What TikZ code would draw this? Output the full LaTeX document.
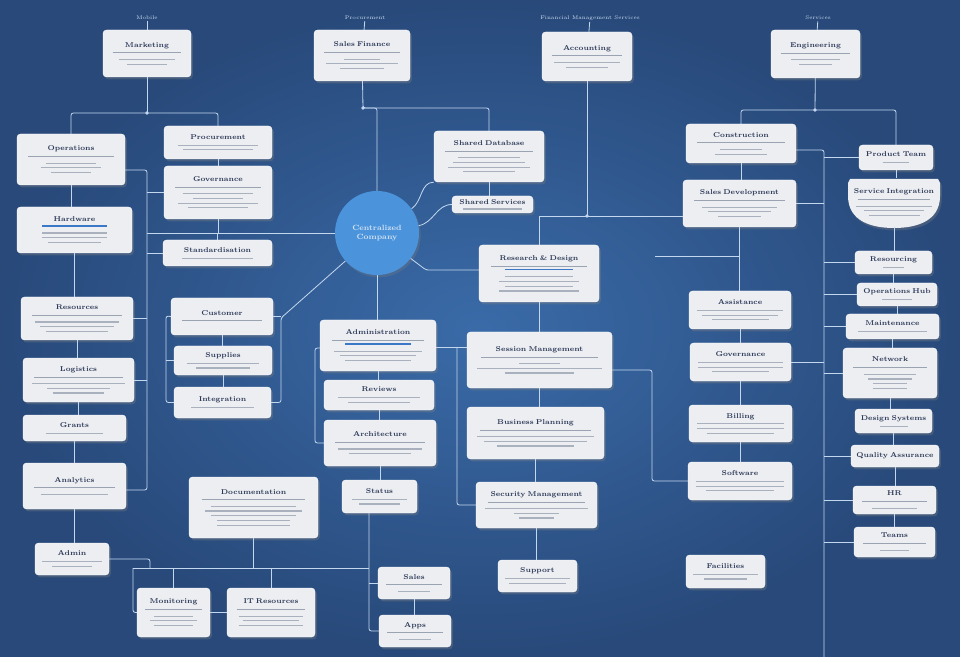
\documentclass[tikz,border=0pt]{standalone}
\usepackage{tikz}
\usetikzlibrary{shadows, arrows.meta}
\definecolor{bgin}{HTML}{3A6BA8}
\definecolor{bgout}{HTML}{28497A}
\definecolor{cardc}{HTML}{ECEEF2}
\definecolor{titlec}{HTML}{2C3856}
\definecolor{bodyc}{HTML}{A9B1BE}
\definecolor{sepc}{HTML}{9AA3B1}
\definecolor{linec}{HTML}{C3D7EF}
\definecolor{hubc}{HTML}{4B94DC}
\definecolor{barc}{HTML}{3C78C8}
\definecolor{labc}{HTML}{D3E2F4}
\newcommand{\ttl}[1]{{\bfseries\fontsize{6}{7}\selectfont\color{titlec}#1}}
\newcommand{\sepl}{\textcolor{sepc}{\rule[1.5pt]{0.85\linewidth}{0.5pt}}}
\newcommand{\barl}{\textcolor{barc}{\rule[1.5pt]{0.6\linewidth}{1.2pt}}}
\newcommand{\bl}[1]{\textcolor{bodyc}{\rule{#1\linewidth}{1pt}}}
\tikzstyle{cardtext} = [rectangle, inner sep=2pt, align=center, font=\fontsize{5.5}{6.5}\selectfont]
\tikzstyle{card} = [cardtext, rounded corners=3pt, fill=cardc, draw=white, line width=0.3pt, drop shadow={opacity=0.35, shadow xshift=1.5pt, shadow yshift=-2pt}]
\tikzstyle{hub} = [circle, fill=hubc, minimum size=2.52cm, text=labc, align=center, font=\bfseries\fontsize{6.5}{8}\selectfont, drop shadow={opacity=0.3, shadow xshift=1.5pt, shadow yshift=-2pt}]
\tikzstyle{toplab} = [inner sep=1pt, text=labc, font=\fontsize{4.5}{5}\selectfont]
\tikzstyle{link} = [draw=linec, line width=0.7pt, rounded corners=2pt]
\tikzset{sz/.style 2 args={minimum width=#1*0.03cm, minimum height=#2*0.03cm,
    /utils/exec={\pgfmathsetlengthmacro\cardtw{#1*0.03cm-6pt}}, text width=\cardtw}}

\begin{document}
\begin{tikzpicture}[x=0.03cm, y=-0.03cm]
    \useasboundingbox (0,0) rectangle (960,657);
    \shade[inner color=bgin, outer color=bgout] (0,0) rectangle (960,657);

    % top row
    \node (l1) [toplab] at (147,18) {Mobile};
    \node (l2) [toplab] at (365,18) {Procurement};
    \node (l3) [toplab] at (590,18) {Financial Management Services};
    \node (l4) [toplab] at (818,18) {Services};
    \node (t1) [card, sz={88}{47}] at (147,53.5) {\ttl{Marketing}\\ \sepl\\[-2pt] \bl{0.7}\\[-2.5pt] \bl{0.5}};
    \node (t2) [card, sz={96}{51}] at (362,55.5) {\ttl{Sales Finance}\\ \sepl\\[-2pt] \bl{0.4}\\[-2.5pt] \bl{0.8}\\[-2.5pt] \bl{0.5}};
    \node (t3) [card, sz={90}{49}] at (587,56.5) {\ttl{Accounting}\\ \sepl\\[-2pt] \bl{0.8}\\[-2.5pt] \bl{0.5}};
    \node (t4) [card, sz={89}{48}] at (815.5,54) {\ttl{Engineering}\\ \sepl\\[-2pt] \bl{0.6}\\[-2.5pt] \bl{0.4}};

    % left column
    \node (a1) [card, sz={108}{51}] at (71,159.5) {\ttl{Operations}\\ \sepl\\[-2pt] \bl{0.5}\\[-2.5pt] \bl{0.6}\\[-2.5pt] \bl{0.4}};
    \node (a2) [card, sz={115}{46}] at (74.5,230) {\ttl{Hardware}\\[-1pt] \barl\\[-2pt] \bl{0.6}\\[-2.5pt] \bl{0.6}\\[-2.5pt] \bl{0.5}};
    \node (a3) [card, sz={112}{43}] at (77,318.5) {\ttl{Resources}\\ \sepl\\[-2pt] \bl{0.8}\\[-2.5pt] \bl{0.7}\\[-2.5pt] \bl{0.6}};
    \node (a4) [card, sz={111}{44}] at (78.5,380) {\ttl{Logistics}\\ \sepl\\[-2pt] \bl{0.9}\\[-2.5pt] \bl{0.6}\\[-2.5pt] \bl{0.5}};
    \node (a5) [card, sz={103}{26}] at (74.5,428) {\ttl{Grants}\\[-1pt] \bl{0.6}};
    \node (a6) [card, sz={103}{46}] at (74.5,486) {\ttl{Analytics}\\ \sepl\\[-2pt] \bl{0.7}};
    \node (a7) [card, sz={74}{32}] at (72,559) {\ttl{Admin}\\[-1pt] \bl{0.9}\\[-2.5pt] \bl{0.6}};

    % second column
    \node (b1) [card, sz={108}{33}] at (218,142.5) {\ttl{Procurement}\\[-1pt] \bl{0.8}\\[-2.5pt] \bl{0.7}};
    \node (b2) [card, sz={108}{53}] at (218,192.5) {\ttl{Governance}\\ \sepl\\[-2pt] \bl{0.7}\\[-2.5pt] \bl{0.5}\\[-2.5pt] \bl{0.8}\\[-2.5pt] \bl{0.6}};
    \node (b3) [card, sz={109}{26}] at (217.5,253) {\ttl{Standardisation}\\[-1pt] \bl{0.7}};
    \node (b4) [card, sz={102}{37}] at (222,316.5) {\ttl{Customer}\\ \sepl};
    \node (b5) [card, sz={98}{29}] at (223,360.5) {\ttl{Supplies}\\[-1pt] \bl{0.8}\\[-2.5pt] \bl{0.6}};
    \node (b6) [card, sz={97}{31}] at (222.5,402.5) {\ttl{Integration}\\[-1pt] \bl{0.7}};

    % bottom left
    \node (c1) [card, sz={129}{61}] at (253.5,507.5) {\ttl{Documentation}\\ \sepl\\[-2pt] \bl{0.7}\\[-2.5pt] \bl{0.8}\\[-2.5pt] \bl{0.7}\\[-2.5pt] \bl{0.6}\\[-2.5pt] \bl{0.6}};
    \node (c2) [card, sz={73}{49}] at (173.5,612.5) {\ttl{Monitoring}\\ \sepl\\[-2pt] \bl{0.6}\\[-2.5pt] \bl{0.7}\\[-2.5pt] \bl{0.6}};
    \node (c3) [card, sz={88}{49}] at (271,612.5) {\ttl{IT Resources}\\ \sepl\\[-2pt] \bl{0.8}\\[-2.5pt] \bl{0.7}\\[-2.5pt] \bl{0.8}};

    % hub and centre
    \node (hub) [hub] at (377,233) {Centralized\\Company};
    \node (d1) [card, sz={110}{51}] at (489,156.5) {\ttl{Shared Database}\\ \sepl\\[-2pt] \bl{0.6}\\[-2.5pt] \bl{0.7}\\[-2.5pt] \bl{0.8}\\[-2.5pt] \bl{0.5}};
    \node (d2) [card, sz={81}{17}] at (492.5,204.5) {\ttl{Shared Services}\\[-2pt] \bl{0.8}};
    \node (d3) [card, sz={116}{51}] at (378,345.5) {\ttl{Administration}\\ \sepl\\[-3pt] \barl\\[-2pt] \bl{0.8}\\[-2.5pt] \bl{0.7}\\[-2.5pt] \bl{0.6}};
    \node (d4) [card, sz={110}{30}] at (379,395) {\ttl{Reviews}\\[-1pt] \bl{0.8}\\[-2.5pt] \bl{0.6}};
    \node (d5) [card, sz={112}{46}] at (380,443) {\ttl{Architecture}\\ \sepl\\[-2pt] \bl{0.8}\\[-2.5pt] \bl{0.6}};
    \node (d6) [card, sz={75}{33}] at (379.5,496.5) {\ttl{Status}\\[-1pt] \bl{0.8}\\[-2.5pt] \bl{0.6}};
    \node (d7) [card, sz={72}{32}] at (414,583) {\ttl{Sales}\\ \sepl\\[-2pt] \bl{0.5}};
    \node (d8) [card, sz={72}{32}] at (415,631) {\ttl{Apps}\\ \sepl\\[-2pt] \bl{0.5}};

    % E column
    \node (e1) [card, sz={120}{57}] at (539,273.5) {\ttl{Research \& Design}\\ \sepl\\[-3pt] \barl\\[-2pt] \bl{0.6}\\[-2.5pt] \bl{0.7}\\[-2.5pt] \bl{0.6}\\[-2.5pt] \bl{0.7}};
    \node (e2) [card, sz={145}{56}] at (539.5,360) {\ttl{Session Management}\\ \sepl\\[-2pt] \bl{0.3}\\[-2.5pt] \bl{0.9}\\[-2.5pt] \bl{0.5}};
    \node (e3) [card, sz={137}{52}] at (535.5,433) {\ttl{Business Planning}\\ \sepl\\[-2pt] \bl{0.9}\\[-2.5pt] \bl{0.8}\\[-2.5pt] \bl{0.6}};
    \node (e4) [card, sz={121}{46}] at (536.5,505) {\ttl{Security Management}\\ \sepl\\[-2pt] \bl{0.9}\\[-2.5pt] \bl{0.4}\\[-2.5pt] \bl{0.3}};
    \node (e5) [card, sz={79}{32}] at (537.5,576) {\ttl{Support}\\[-1pt] \bl{0.9}\\[-2.5pt] \bl{0.8}};

    % right columns
    \node (f1) [card, sz={110}{39}] at (741,143.5) {\ttl{Construction}\\ \sepl\\[-2pt] \bl{0.4}\\[-2.5pt] \bl{0.5}};
    \node (f2) [card, sz={113}{47}] at (739.5,203.5) {\ttl{Sales Development}\\ \sepl\\[-2pt] \bl{0.7}\\[-2.5pt] \bl{0.6}\\[-2.5pt] \bl{0.4}};
    \node (f3) [card, sz={102}{38}] at (740,310) {\ttl{Assistance}\\[-1pt] \bl{0.9}\\[-2.5pt] \bl{0.8}\\[-2.5pt] \bl{0.6}};
    \node (f4) [card, sz={101}{38}] at (740.5,362) {\ttl{Governance}\\[-1pt] \bl{0.9}\\[-2.5pt] \bl{0.9}\\[-2.5pt] \bl{0.6}};
    \node (f5) [card, sz={103}{37}] at (740.5,423.5) {\ttl{Billing}\\[-1pt] \bl{0.9}\\[-2.5pt] \bl{0.9}\\[-2.5pt] \bl{0.7}};
    \node (f6) [card, sz={104}{38}] at (740,481) {\ttl{Software}\\[-1pt] \bl{0.9}\\[-2.5pt] \bl{0.9}\\[-2.5pt] \bl{0.7}};
    \node (f7) [card, sz={79}{33}] at (725.5,571.5) {\ttl{Facilities}\\[-1pt] \bl{0.9}\\[-2.5pt] \bl{0.6}};

    % far right column
    \fill[cardc, drop shadow={opacity=0.35, shadow xshift=1.5pt, shadow yshift=-2pt}]
        (848,183) -- (850,179) -- (938,179) -- (940,183) -- (940,196) .. controls (940,222) and (915,228) .. (894,228)
        .. controls (873,228) and (848,222) .. (848,196) -- cycle;
    \node (g0) [card, sz={74}{25}] at (896,157.5) {\ttl{Product Team}\\[-1pt] \bl{0.4}};
    \node (g1) [cardtext, sz={92}{49}] at (894,202.5) {\ttl{Service Integration}\\ \sepl\\[-2pt] \bl{0.9}\\[-2.5pt] \bl{0.7}\\[-2.5pt] \bl{0.6}};
    \node (g2) [card, sz={77}{23}] at (893.5,262.5) {\ttl{Resourcing}\\[-1pt] \bl{0.3}};
    \node (g3) [card, sz={80}{23}] at (897,294.5) {\ttl{Operations Hub}\\[-1pt] \bl{0.4}};
    \node (g4) [card, sz={93}{25}] at (892.5,326.5) {\ttl{Maintenance}\\[-1pt] \bl{0.8}};
    \node (g5) [card, sz={94}{50}] at (890,373) {\ttl{Network}\\ \sepl\\[-2pt] \bl{0.6}\\[-2.5pt] \bl{0.5}\\[-2.5pt] \bl{0.4}\\[-2.5pt] \bl{0.4}};
    \node (g6) [card, sz={77}{24}] at (893.5,421) {\ttl{Design Systems}\\[-1pt] \bl{0.4}};
    \node (g7) [card, sz={88}{22}] at (895,456) {\ttl{Quality Assurance}};
    \node (g8) [card, sz={83}{28}] at (894.5,500) {\ttl{HR}\\ \sepl\\[-2pt] \bl{0.6}};
    \node (g9) [card, sz={81}{30}] at (894.5,542) {\ttl{Teams}\\ \sepl\\[-2pt] \bl{0.4}};

    % top connectors
    \coordinate (j1) at (147,113);
    \coordinate (j2) at (363,108);
    \coordinate (j3) at (587,216);
    \coordinate (j4) at (815,110);
    \draw [link] (l1) -- (t1);
    \draw [link] (l2) -- (t2);
    \draw [link] (l3) -- (t3);
    \draw [link] (l4) -- (t4);
    \draw [link] (t1) -- (j1);
    \draw [link] (j1) -| (a1);
    \draw [link] (j1) -| (b1);

    % left column links
    \draw [link] (a1) -- (a1 |- a2.north);
    \draw [link] (a2) -- (a2 |- a3.north);
    \draw [link] (a3) -- (a3 |- a4.north);
    \draw [link] (a4) -- (a4 |- a5.north);
    \draw [link] (a5) -- (a5 |- a6.north);
    \draw [link] (a6) -- (a6 |- a7.north);
    \coordinate (v1) at (147,170);
    \coordinate (v2) at (147,490);
    \draw [link] (a1.east |- v1) -- (v1) -- (v2) -- (a6.east |- v2);
    \draw [link] (a3.east) -- (a3.east -| v1);
    \draw [link] (a4.east) -- (a4.east -| v1);
    \draw [link] (b2.west) -- (b2.west -| v1);
    \draw [link] (b3.west) -- (b3.west -| v1);

    % second column links
    \draw [link] (b1) -- (b1 |- b2.north);
    \draw [link] (hub) -- (hub -| v1);
    \draw [link] (b2) -- (b2 |- hub);
    \draw [link] (b3 |- hub) -- (b3);
    \draw [link] (b4) -- (b4 |- b5.north);
    \draw [link] (b5) -- (b5 |- b6.north);
    \coordinate (k0) at (166,316);
    \draw [link] (b4.west) -- (k0) |- (b6.west);
    \draw [link] (b5.west) -- (b5.west -| k0);
    \coordinate (k1) at (281,318);
    \draw [link] (hub) -- (k1) |- (b6.east);
    \draw [link] (b4.east) -- (b4.east -| k1);

    % hub links
    \draw [link] (t2) -- (j2) -| (d1);
    \draw [link] (j2) -| (hub);
    \draw [link] (hub) to[out=35,in=180] (d1.south west);
    \draw [link] (hub) to[out=10,in=180] (d2.west);
    \draw [link] (d1) -- (d1 |- d2.north);
    \coordinate (k2) at (426,270);
    \draw [link] (hub) -- (k2) -- (k2 -| e1.west);
    \draw [link] (hub) -- (hub |- d3.north);

    % centre column links
    \draw [link] (d3) -- (d3 |- d4.north);
    \draw [link] (d4) -- (d4 |- d5.north);
    \draw [link] (d5) -- (d5 |- d6.north);
    \coordinate (k7) at (315,348);
    \draw [link] (d3.west |- k7) -- (k7) |- (d5.west);
    \coordinate (k6) at (369,513);
    \draw [link] (k6) -- (k6 |- d8.west) -- (d8.west);
    \draw [link] (d7.west -| k6) -- (d7.west);
    \draw [link] (d7) -- (d7 |- d8.north);

    % bottom left bus
    \coordinate (h0) at (150,568);
    \coordinate (h1) at (133,568);
    \draw [link] (a7.east) -| (h0);
    \draw [link] (h1) -- (h1 -| k6);
    \draw [link] (h1) |- (c2.west);
    \draw [link] (c1) -- (c1 |- h1);
    \draw [link] (c2 |- h1) -- (c2);
    \draw [link] (c3 |- h1) -- (c3);
    \draw [link] (c2) -- (c3);

    % E column links
    \draw [link] (t3) -- (j3);
    \draw [link] (e1 |- j3) -- (j3 -| f2.west);
    \draw [link] (e1 |- j3) -- (e1);
    \draw [link] (e1) -- (e1 |- e2.north);
    \draw [link] (e2) -- (e2 |- e3.north);
    \draw [link] (e3) -- (e3 |- e4.north);
    \draw [link] (e4) -- (e4 |- e5.north);
    \coordinate (k3) at (457,347);
    \draw [link] (d3.east |- k3) -- (k3 -| e2.west);
    \draw [link] (k3) |- (e4.west);
    \coordinate (k4) at (652,370);
    \draw [link] (e2.east |- k4) -- (k4) |- (f6.west);

    % right links
    \draw [link] (t4) -- (j4);
    \draw [link] (j4) -| (f1);
    \draw [link] (j4) -| (g0);
    \draw [link] (f1) -- (f1 |- f2.north);
    \draw [link] (f2) -- (f2 |- f3.north);
    \coordinate (k5) at (655,256);
    \draw [link] (k5) -- (k5 -| f2);
    \draw [link] (f3) -- (f3 |- f4.north);
    \draw [link] (f4) -- (f4 |- f5.north);
    \draw [link] (f5) -- (f5 |- f6.north);
    \coordinate (v3) at (824,150);
    \coordinate (v4) at (824,657);
    \draw [link] (f1.east |- v3) -- (v3) -- (v4);
    \draw [link] (f2.east) -- (f2.east -| v3);
    \draw [link] (f4.east) -- (f4.east -| v3);
    \draw [link] (g0.west) -- (g0.west -| v3);
    \draw [link] (g2.west) -- (g2.west -| v3);
    \draw [link] (g3.west) -- (g3.west -| v3);
    \draw [link] (g4.west) -- (g4.west -| v3);
    \draw [link] (g5.west) -- (g5.west -| v3);
    \draw [link] (g7.west) -- (g7.west -| v3);
    \draw [link] (g8.west) -- (g8.west -| v3);
    \draw [link] (g9.west) -- (g9.west -| v3);
    \draw [link] (g0) -- (g0 |- g1.north);
    \draw [link] (g1) -- (g1 |- g2.north);
    \draw [link] (g2) -- (g2 |- g3.north);
    \draw [link] (g3) -- (g3 |- g4.north);
    \draw [link] (g4) -- (g4 |- g5.north);
    \draw [link] (g5) -- (g5 |- g6.north);
    \draw [link] (g6) -- (g6 |- g7.north);
    \draw [link] (g7) -- (g7 |- g8.north);
    \draw [link] (g8) -- (g8 |- g9.north);

    % junction dots
    \fill [linec] (j1) circle[radius=1.6pt];
    \fill [linec] (j2) circle[radius=1.6pt];
    \fill [linec] (j3) circle[radius=1.6pt];
    \fill [linec] (j4) circle[radius=1.6pt];
\end{tikzpicture}
\end{document}
